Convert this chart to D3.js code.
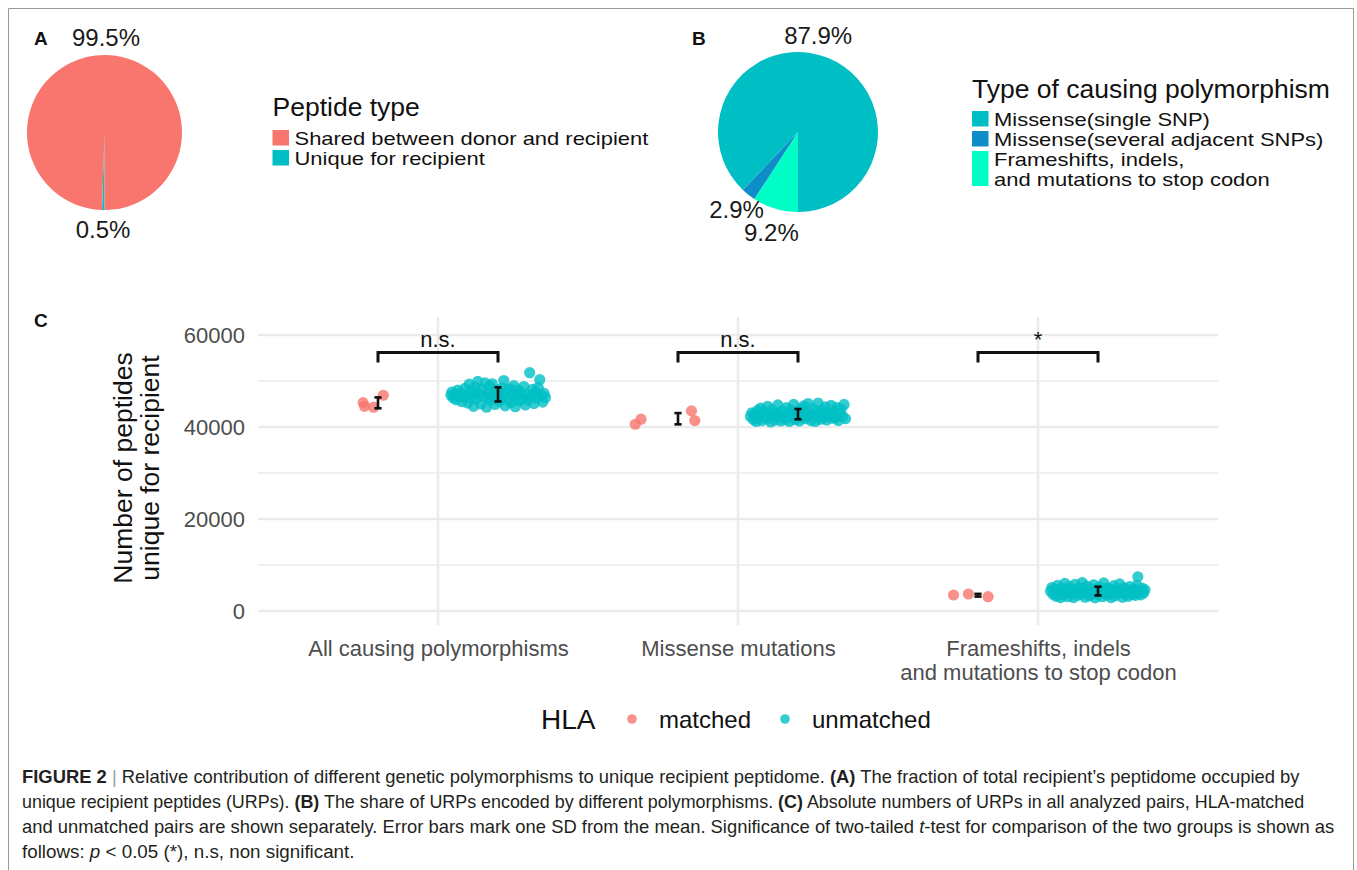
<!DOCTYPE html>
<html>
<head>
<meta charset="utf-8">
<script src="https://cdn.jsdelivr.net/npm/d3@7"></script>
<style>
  html, body { margin: 0; padding: 0; background: #fff; }
  svg { display: block; font-family: "Liberation Sans", Arial, Helvetica, sans-serif; }
</style>
</head>
<body>
<svg id="fig" width="1357" height="870"></svg>
<script>
// ---------- Panel A: share of recipient peptidome ----------
const peptideTypes = ["Shared between donor and recipient", "Unique for recipient"];
const peptideShares = [99.5, 0.5];
const peptideColors = ["#F8766D", "#00BFC4"];

// ---------- Panel B: causing polymorphism of unique peptides ----------
const polymorphismTypes = ["Missense(single SNP)", "Missense(several adjacent SNPs)", "Frameshifts, indels,\nand mutations to stop codon"];
const polymorphismShares = [87.9, 2.9, 9.2];
const polymorphismColors = ["#00BFC4", "#0F8DC8", "#00FFC6"];

// ---------- Panel C: URP counts per donor-recipient pair ----------
const categories = ["All causing polymorphisms", "Missense mutations", "Frameshifts, indels\nand mutations to stop codon"];
const hlaGroups = ["matched", "unmatched"];
const hlaColors = ["#F8766D", "#00BFC4"];
const yTicks = [0, 20000, 40000, 60000];
const yMinorTicks = [10000, 30000, 50000];
const significance = ["n.s.", "n.s.", "*"];
const bracketLevel = [56200, 56200, 56200];

// each pair: [jitter as a fraction of the jitter width, number of peptides]
const matchedAll = [[-0.31, 45300], [-0.28, 44500], [-0.09, 44300], [0.11, 46900]];
const matchedMissense = [[-0.89, 40600], [-0.77, 41700], [0.28, 43500], [0.35, 41400]];
const matchedFrameshift = [[-0.51, 3480], [-0.20, 3700], [0.21, 3110]];

const unmatchedAll = [
  [-0.98,46900],[-0.96,47600],[-0.93,46300],[-0.90,47200],[-0.87,45900],[-0.84,48000],[-0.81,46600],[-0.78,47400],
  [-0.75,45500],[-0.72,46800],[-0.69,48400],[-0.66,47000],[-0.63,45200],[-0.60,49300],[-0.57,46400],[-0.54,47800],
  [-0.51,44500],[-0.48,48700],[-0.45,46100],[-0.42,49900],[-0.39,47300],[-0.36,45000],[-0.33,48200],[-0.30,46700],
  [-0.27,49600],[-0.24,44300],[-0.21,47500],[-0.18,48900],[-0.15,45800],[-0.12,49400],[-0.09,46900],[-0.06,44900],
  [-0.03,48100],[0.00,47200],[0.03,45600],[0.06,46300],[0.09,48500],[0.12,50100],[0.15,44600],[0.18,47700],
  [0.21,46000],[0.24,48300],[0.27,45300],[0.30,47000],[0.33,49000],[0.36,44400],[0.39,46600],[0.42,48000],
  [0.45,45700],[0.48,47400],[0.51,46200],[0.54,48800],[0.57,44800],[0.60,47100],[0.63,45900],[0.66,51800],
  [0.69,46800],[0.72,48200],[0.75,45100],[0.78,47600],[0.81,46300],[0.84,48600],[0.87,50300],[0.90,46900],
  [0.93,45400],[0.96,47300],[0.99,46400],[-0.50,47100],[-0.20,46500],[0.10,47000],[0.40,47200],[-0.70,46600]
];
const unmatchedMissense = [
  [-0.99,42300],[-0.96,43100],[-0.93,41600],[-0.90,42800],[-0.87,41200],[-0.84,43600],[-0.81,42000],[-0.78,44100],
  [-0.75,41400],[-0.72,42600],[-0.69,43300],[-0.66,41800],[-0.63,44500],[-0.60,42200],[-0.57,41100],[-0.54,43800],
  [-0.51,42700],[-0.48,41500],[-0.45,43000],[-0.42,44800],[-0.39,42100],[-0.36,41300],[-0.33,43500],[-0.30,42400],
  [-0.27,41700],[-0.24,44200],[-0.21,42900],[-0.18,41200],[-0.15,43700],[-0.12,42000],[-0.09,44900],[-0.06,41600],
  [-0.03,43200],[0.00,42500],[0.03,41300],[0.06,43900],[0.09,42200],[0.12,44600],[0.15,41800],[0.18,43100],
  [0.21,45100],[0.24,42600],[0.27,41400],[0.30,44000],[0.33,42800],[0.36,41200],[0.39,43400],[0.42,45200],
  [0.45,42300],[0.48,41700],[0.51,43700],[0.54,42100],[0.57,44400],[0.60,41500],[0.63,43000],[0.66,42500],
  [0.69,44700],[0.72,41900],[0.75,43300],[0.78,42000],[0.81,44200],[0.84,41400],[0.87,42900],[0.90,43900],
  [0.93,42300],[0.96,44900],[0.99,41800],[-0.50,42600],[-0.10,42700],[0.20,42400],[0.50,42900],[0.80,42600]
];
const unmatchedFrameshift = [
  [-0.99,4300],[-0.96,5100],[-0.93,3600],[-0.90,4700],[-0.87,3200],[-0.84,5600],[-0.81,4000],[-0.78,2900],
  [-0.75,4900],[-0.72,3500],[-0.69,6000],[-0.66,4400],[-0.63,3100],[-0.60,5300],[-0.57,3800],[-0.54,4600],
  [-0.51,2900],[-0.48,5800],[-0.45,4100],[-0.42,3400],[-0.39,5000],[-0.36,3700],[-0.33,6200],[-0.30,4500],
  [-0.27,3000],[-0.24,5400],[-0.21,4200],[-0.18,3300],[-0.15,4800],[-0.12,3900],[-0.09,5700],[-0.06,2850],
  [-0.03,4400],[0.00,3600],[0.03,5200],[0.06,4000],[0.09,3100],[0.12,6100],[0.15,4700],[0.18,3500],
  [0.21,5000],[0.24,3900],[0.27,2900],[0.30,4600],[0.33,5500],[0.36,3300],[0.39,4300],[0.42,3800],
  [0.45,5900],[0.48,4100],[0.51,3000],[0.54,5100],[0.57,3700],[0.60,4500],[0.63,3200],[0.66,5300],
  [0.69,4000],[0.72,3600],[0.75,4800],[0.78,3400],[0.81,5600],[0.83,7450],[0.86,4200],[0.89,3500],
  [0.92,5000],[0.95,3900],[0.98,4600],[-0.50,4300],[-0.20,4100],[0.10,4200],[0.40,4400],[0.70,4300]
];

const groupsByCategory = [
  [matchedAll, unmatchedAll],
  [matchedMissense, unmatchedMissense],
  [matchedFrameshift, unmatchedFrameshift]
];

// ---------- drawing ----------
const svg = d3.select("#fig");
svg.append("rect").attr("width", 1357).attr("height", 870).attr("fill", "#fff");
svg.append("path")
  .attr("d", "M8.5,870 V8.5 H1353.5 V870")
  .attr("fill", "none").attr("stroke", "#9a9a9a").attr("stroke-width", 1);

function panelLetter(txt, x, y) {
  svg.append("text").attr("x", x).attr("y", y).text(txt)
    .attr("font-weight", "bold").attr("font-size", 19).attr("fill", "#111");
}
panelLetter("A", 34, 45);
panelLetter("B", 692, 45);
panelLetter("C", 34, 327);

// widen a text horizontally (the figure's type is a touch wider than Liberation Sans)
function stretch(sel, factor) {
  const w = sel.node().getComputedTextLength();
  sel.attr("textLength", w * factor).attr("lengthAdjust", "spacingAndGlyphs");
  return sel;
}

// Pie helper: slices run clockwise from 6 o'clock, last legend entry first
function drawPie(cx, cy, r, values, colors, labelR, angleShift) {
  const g = svg.append("g").attr("transform", `translate(${cx},${cy})`);
  const idx = d3.range(values.length).reverse();
  const pie = d3.pie().sort(null).value(i => values[i])
    .startAngle(Math.PI).endAngle(3 * Math.PI);
  const arcs = pie(idx);
  const arc = d3.arc().innerRadius(0).outerRadius(r);
  g.selectAll("path").data(arcs).join("path")
    .attr("d", arc).attr("fill", d => colors[d.data]);
  const mid = d => (d.startAngle + d.endAngle) / 2 + (angleShift[d.data] || 0);
  const rad = d => labelR[d.data];
  g.selectAll("text").data(arcs).join("text")
    .attr("x", d => rad(d) * Math.sin(mid(d)))
    .attr("y", d => -rad(d) * Math.cos(mid(d)))
    .attr("dy", "0.36em").attr("text-anchor", "middle")
    .attr("font-size", 24).attr("fill", "#1a1a1a")
    .text(d => values[d.data].toFixed(1) + "%");
}

function drawLegend(x, yTitle, title, labels, colors, rowTops, rowHeights) {
  svg.append("text").attr("x", x).attr("y", yTitle).text(title)
    .attr("font-size", 26.5).attr("fill", "#111");
  labels.forEach((lab, i) => {
    svg.append("rect").attr("x", x).attr("y", rowTops[i])
      .attr("width", 16.5).attr("height", rowHeights[i]).attr("fill", colors[i]);
    lab.split("\n").forEach((line, li) => {
      const t = svg.append("text").attr("x", x + 22).attr("y", rowTops[i] + 14.5 + li * 20)
        .attr("font-size", 19).attr("fill", "#111").text(line);
      stretch(t, 1.155);
    });
  });
}

drawPie(104.5, 132.5, 77.5, peptideShares, peptideColors, [95.5, 97], {});
drawLegend(272.5, 116, "Peptide type", peptideTypes, peptideColors, [130, 150], [15.5, 15.5]);

drawPie(798, 132, 80, polymorphismShares, polymorphismColors, [99, 99, 104], { 0: -0.175, 2: -0.03 });
drawLegend(972, 98, "Type of causing polymorphism", polymorphismTypes, polymorphismColors, [111, 131, 151], [15.5, 15.5, 35]);

// ---------- Panel C ----------
const plot = { left: 258, right: 1218, top: 317, bottom: 625 };
const x = d3.scalePoint().domain(categories).range([plot.left, plot.right]).padding(0.6);
const step = x.step();
const y = d3.scaleLinear().domain([0, 60000]).range([611, 335]);
const dodge = 0.2 * step;
const jitterWidth = 0.16 * step;

const grid = svg.append("g");
yMinorTicks.forEach(v => grid.append("line")
  .attr("x1", plot.left).attr("x2", plot.right).attr("y1", y(v)).attr("y2", y(v))
  .attr("stroke", "#ebebeb").attr("stroke-width", 1.6));
yTicks.forEach(v => grid.append("line")
  .attr("x1", plot.left).attr("x2", plot.right).attr("y1", y(v)).attr("y2", y(v))
  .attr("stroke", "#ebebeb").attr("stroke-width", 2.4));
categories.forEach(c => grid.append("line")
  .attr("x1", x(c)).attr("x2", x(c)).attr("y1", plot.top).attr("y2", plot.bottom)
  .attr("stroke", "#ebebeb").attr("stroke-width", 2.4));

// y axis
const yAxis = svg.append("g").attr("transform", `translate(${plot.left},0)`)
  .call(d3.axisLeft(y).tickValues(yTicks).tickSize(0).tickPadding(13).tickFormat(d3.format("d")));
yAxis.select(".domain").remove();
yAxis.selectAll("text").attr("font-size", 22).attr("fill", "#4d4d4d")
  .attr("font-family", "Liberation Sans, Arial, sans-serif");

// x axis
const xAxis = svg.append("g").attr("transform", `translate(0,${plot.bottom})`)
  .call(d3.axisBottom(x).tickSize(0).tickPadding(15));
xAxis.select(".domain").remove();
xAxis.selectAll("text").each(function (d) {
  const t = d3.select(this).text("").attr("font-size", 22).attr("fill", "#4d4d4d")
    .attr("font-family", "Liberation Sans, Arial, sans-serif");
  d.split("\n").forEach((line, i) => {
    t.append("tspan").attr("x", 0).attr("dy", i === 0 ? "0.71em" : 24).text(line);
  });
});

// y axis title
const yTitle = svg.append("text")
  .attr("transform", `translate(132,468) rotate(-90)`)
  .attr("text-anchor", "middle").attr("font-size", 26.5).attr("fill", "#111");
yTitle.append("tspan").attr("x", 0).attr("dy", 0).text("Number of peptides");
yTitle.append("tspan").attr("x", 0).attr("dy", 27).text("unique for recipient");

// points
const pts = svg.append("g");
categories.forEach((c, ci) => {
  groupsByCategory[ci].forEach((grp, gi) => {
    const cx = x(c) + (gi === 0 ? -dodge : dodge);
    pts.selectAll(null).data(grp).join("circle")
      .attr("cx", d => cx + d[0] * jitterWidth)
      .attr("cy", d => y(d[1]))
      .attr("r", 5.6)
      .attr("fill", hlaColors[gi]).attr("fill-opacity", 0.8);
  });
});

// error bars: mean ± one SD
const eb = svg.append("g").attr("stroke", "#111").attr("stroke-width", 2.6).attr("fill", "none");
categories.forEach((c, ci) => {
  groupsByCategory[ci].forEach((grp, gi) => {
    const cx = x(c) + (gi === 0 ? -dodge : dodge);
    const vals = grp.map(d => d[1]);
    const m = d3.mean(vals), s = d3.deviation(vals);
    const hw = 3.6;
    eb.append("line").attr("x1", cx).attr("x2", cx).attr("y1", y(m - s)).attr("y2", y(m + s));
    eb.append("line").attr("x1", cx - hw).attr("x2", cx + hw).attr("y1", y(m - s)).attr("y2", y(m - s));
    eb.append("line").attr("x1", cx - hw).attr("x2", cx + hw).attr("y1", y(m + s)).attr("y2", y(m + s));
  });
});

// significance brackets
categories.forEach((c, ci) => {
  const x0 = x(c) - dodge, x1 = x(c) + dodge;
  const yb = y(bracketLevel[ci]);
  const drop = y(bracketLevel[ci] - 2200) - yb;
  svg.append("path")
    .attr("d", `M${x0},${yb + drop} V${yb} H${x1} V${yb + drop}`)
    .attr("fill", "none").attr("stroke", "#111").attr("stroke-width", 3);
  svg.append("text").attr("x", x(c)).attr("y", yb - 5.5)
    .attr("text-anchor", "middle").attr("font-size", 22).attr("fill", "#111")
    .text(significance[ci]);
});

// HLA legend
const lg = svg.append("g");
lg.append("text").attr("x", 541).attr("y", 729).attr("font-size", 28).attr("fill", "#111").text("HLA");
const legX = [632, 785];
hlaGroups.forEach((g, i) => {
  lg.append("circle").attr("cx", legX[i]).attr("cy", 719).attr("r", 4.8)
    .attr("fill", hlaColors[i]).attr("fill-opacity", 0.8);
  lg.append("text").attr("x", legX[i] + 27).attr("y", 727.5).attr("font-size", 24)
    .attr("fill", "#111").text(g);
});

// ---------- caption ----------
const captionLines = [
  [["b", "FIGURE 2"], ["sep", " | "], ["", "Relative contribution of different genetic polymorphisms to unique recipient peptidome. "], ["b", "(A)"], ["", " The fraction of total recipient\u2019s peptidome occupied by"]],
  [["", "unique recipient peptides (URPs). "], ["b", "(B)"], ["", " The share of URPs encoded by different polymorphisms. "], ["b", "(C)"], ["", " Absolute numbers of URPs in all analyzed pairs, HLA-matched"]],
  [["", "and unmatched pairs are shown separately. Error bars mark one SD from the mean. Significance of two-tailed "], ["i", "t"], ["", "-test for comparison of the two groups is shown as"]],
  [["", "follows: "], ["i", "p"], ["", " < 0.05 (*), n.s, non significant."]]
];
const captionSizes = [18.4, 17.9, 18.4, 18.8];
const cap = svg.append("g").attr("fill", "#231f20");
captionLines.forEach((parts, li) => {
  const t = cap.append("text").attr("x", 22).attr("y", 783 + li * 25)
    .attr("font-size", captionSizes[li]).attr("xml:space", "preserve");
  parts.forEach(([kind, txt]) => {
    const sp = t.append("tspan").text(txt);
    if (kind === "b") sp.attr("font-weight", "bold");
    if (kind === "i") sp.attr("font-style", "italic");
    if (kind === "sep") sp.attr("fill", "#a0a0a0");
  });
});
</script>
</body>
</html>
